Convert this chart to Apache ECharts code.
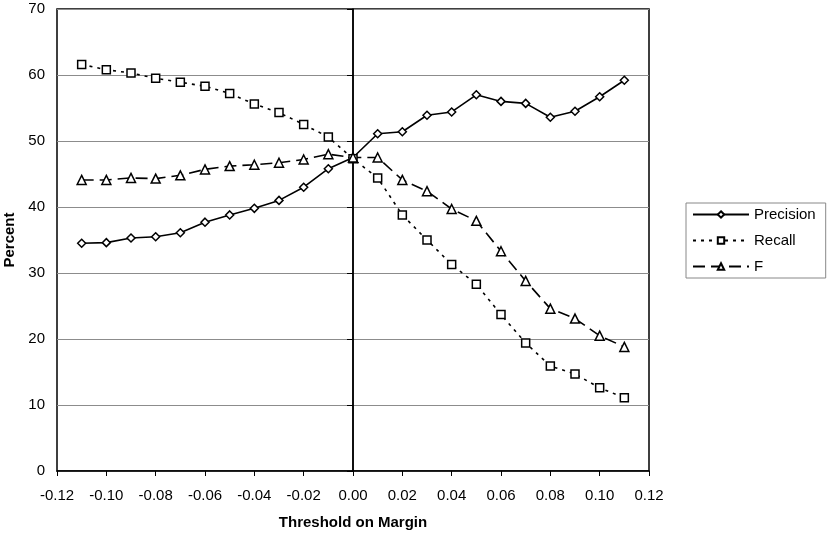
<!DOCTYPE html>
<html><head><meta charset="utf-8">
<script src="https://cdn.jsdelivr.net/npm/echarts@6/dist/echarts.min.js"></script>
<style>html,body{margin:0;padding:0;background:#fff}#c{width:830px;height:533px}</style>
</head><body><div id="c"></div>
<script>
const thresholds = [-0.11,-0.10,-0.09,-0.08,-0.07,-0.06,-0.05,-0.04,-0.03,-0.02,-0.01,0.00,0.01,0.02,0.03,0.04,0.05,0.06,0.07,0.08,0.09,0.10,0.11];
const precision = [34.5,34.6,35.3,35.5,36.1,37.7,38.8,39.8,41.0,43.0,45.8,47.5,51.1,51.4,53.9,54.4,57.0,56.0,55.7,53.6,54.5,56.7,59.2];
const recall    = [61.6,60.8,60.3,59.5,58.9,58.3,57.2,55.6,54.3,52.5,50.6,47.3,44.4,38.8,35.0,31.3,28.3,23.7,19.4,15.9,14.7,12.6,11.1];
const fScore    = [44.1,44.1,44.4,44.3,44.8,45.7,46.2,46.4,46.7,47.2,48.0,47.5,47.5,44.1,42.4,39.7,37.9,33.3,28.8,24.6,23.1,20.5,18.8];
const seriesNames = ['Precision','Recall','F'];
const xTitle = 'Threshold on Margin';
const yTitle = 'Percent';

const pair = arr => thresholds.map((x,i)=>[x,arr[i]]);
const font = 'Liberation Sans, Arial, sans-serif';
const chart = echarts.init(document.getElementById('c'), null, {renderer:'canvas'});
const mk = (name, data, symbol, size, ltype) => ({
  name, type:'line', data: pair(data), symbol, symbolSize:size, showSymbol:true,
  lineStyle:{color:'#000', width:1.6, type:ltype},
  itemStyle:{color:'#fff', borderColor:'#000', borderWidth:1.5},
  z: 5, animation:false
});
const s0 = mk(seriesNames[0], precision, 'diamond', 8, 'solid');
s0.markLine = {silent:true, symbol:'none', label:{show:false},
  lineStyle:{color:'#000', width:1.5, type:'solid'}, data:[{xAxis:0}], animation:false};
chart.setOption({
  animation:false,
  grid:{left:57, top:9, right:181, bottom:62, containLabel:false, outerBoundsMode:'none',
        show:true, borderColor:'#000', borderWidth:1.5, backgroundColor:'#fff'},
  legend:{
    orient:'vertical', left:686, top:203,
    padding:[4,10,4,6], itemGap:11, itemWidth:56, itemHeight:8,
    borderColor:'#888', borderWidth:1,
    textStyle:{fontFamily:font, fontSize:15, color:'#000', padding:[0,0,0,0]},
    data: seriesNames
  },
  xAxis:{
    type:'value', min:-0.12, max:0.12, interval:0.02,
    name:xTitle, nameLocation:'middle', nameGap:44,
    nameTextStyle:{fontFamily:font, fontSize:15, fontWeight:'bold', color:'#000'},
    axisLine:{onZero:false, lineStyle:{color:'#000', width:1.5}},
    axisTick:{show:true, inside:false, length:5, lineStyle:{color:'#000'}},
    axisLabel:{formatter:v=>v.toFixed(2), fontFamily:font, fontSize:15, color:'#000', margin:17},
    splitLine:{show:false}
  },
  yAxis:{
    type:'value', min:0, max:70, interval:10,
    name:yTitle, nameLocation:'middle', nameGap:39, nameRotate:90,
    nameTextStyle:{fontFamily:font, fontSize:15, fontWeight:'bold', color:'#000'},
    axisLine:{show:true, lineStyle:{color:'#000', width:1.5}},
    axisTick:{show:true, length:6, lineStyle:{color:'#000'}},
    axisLabel:{fontFamily:font, fontSize:15, color:'#000', margin:12},
    splitLine:{show:true, lineStyle:{color:'#8c8c8c', width:1}}
  },
  series:[
    s0,
    mk(seriesNames[1], recall, 'rect', 8, [3,5]),
    mk(seriesNames[2], fScore, 'triangle', 9, [12,6])
  ]
});
</script></body></html>
